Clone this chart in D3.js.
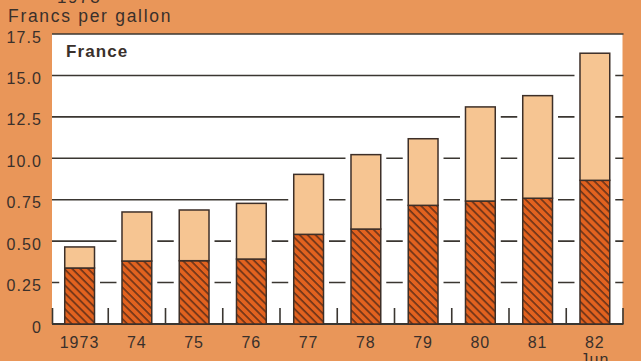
<!DOCTYPE html>
<html>
<head>
<meta charset="utf-8">
<script src="https://cdn.jsdelivr.net/npm/d3@7"></script>
<style>
  html, body { margin: 0; padding: 0; background: #e99659; }
  svg { display: block; }
  text { font-family: "Liberation Sans", Arial, sans-serif; fill: #3a302b; }
</style>
</head>
<body>
<svg id="chart" width="641" height="361"></svg>
<script>
// Petrol price per gallon, France (francs)
const years = ["1973", "74", "75", "76", "77", "78", "79", "80", "81", "82"];
const yearSubLabels = ["", "", "", "", "", "", "", "", "", "Jun"];
const lowerValues = [3.38, 3.80, 3.82, 3.92, 5.41, 5.73, 7.16, 7.42, 7.59, 8.67];
const upperValues = [1.27, 2.96, 3.06, 3.36, 3.62, 4.49, 4.02, 5.68, 6.19, 7.67];
const tickValues = [0, 2.5, 5, 7.5, 10, 12.5, 15, 17.5];
const tickLabels = ["0", "0.25", "0.50", "0.75", "10.0", "12.5", "15.0", "17.5"];

const rows = years.map((y, i) => ({ year: y, lower: lowerValues[i], upper: upperValues[i] }));
const stacked = d3.stack().keys(["lower", "upper"])(rows);

const svg = d3.select("#chart");
const plotLeft = 51, plotRight = 623.5, plotTop = 34, plotBottom = 324;

const x = d3.scaleBand().domain(years).range([plotLeft, plotRight])
  .paddingInner(0.48).paddingOuter(0.24);
const y = d3.scaleLinear().domain([0, 17.5]).range([plotBottom, plotTop]);

const ink = "#3a3631";

// hatch pattern for the lower segment
const defs = svg.append("defs");
const pat = defs.append("pattern")
  .attr("id", "hatch")
  .attr("patternUnits", "userSpaceOnUse")
  .attr("width", 5.6).attr("height", 10)
  .attr("patternTransform", "rotate(-45)");
pat.append("rect").attr("width", 5.6).attr("height", 10).attr("fill", "#e2621f");
pat.append("line").attr("x1", 1).attr("x2", 1).attr("y1", 0).attr("y2", 10)
  .attr("stroke", "#4a2616").attr("stroke-width", 1.3);

// white plotting panel
svg.append("rect")
  .attr("x", plotLeft + 1).attr("y", plotTop)
  .attr("width", plotRight - plotLeft - 2).attr("height", plotBottom - plotTop)
  .attr("fill", "#ffffff");

// horizontal gridlines
svg.append("g")
  .selectAll("line")
  .data(tickValues.filter(v => v > 0))
  .join("line")
  .attr("x1", plotLeft + 1).attr("x2", plotRight)
  .attr("y1", d => y(d)).attr("y2", d => y(d))
  .attr("stroke", ink).attr("stroke-width", 1.6);

// clear the gridlines beside each bar
const gap = 5.5;
svg.append("g")
  .selectAll("rect")
  .data(rows)
  .join("rect")
  .attr("x", d => x(d.year) - gap)
  .attr("width", x.bandwidth() + 2 * gap)
  .attr("y", d => y(d.lower + d.upper) + 1)
  .attr("height", d => y(0) - y(d.lower + d.upper) - 2)
  .attr("fill", "#ffffff");

// y-axis labels
const yAxis = d3.axisLeft(y)
  .tickValues(tickValues)
  .tickSize(0)
  .tickFormat((d, i) => tickLabels[i]);
const gy = svg.append("g").attr("transform", `translate(${plotLeft - 6},3)`).call(yAxis);
gy.select(".domain").remove();
gy.selectAll("text")
  .style("font-size", "16px")
  .style("letter-spacing", "1.1px")
  .attr("fill", "#3a302b");

// baseline with separators between bars
svg.append("line")
  .attr("x1", plotLeft + 1).attr("x2", plotRight)
  .attr("y1", y(0)).attr("y2", y(0))
  .attr("stroke", ink).attr("stroke-width", 1.8);
const sepPos = years.map(d => x(d) - x.step() * 0.24).concat([plotRight - 0.5]);
sepPos[0] = plotLeft + 1.5;
svg.append("g")
  .selectAll("line")
  .data(sepPos)
  .join("line")
  .attr("x1", d => d).attr("x2", d => d)
  .attr("y1", y(0)).attr("y2", y(0) - 16)
  .attr("stroke", ink).attr("stroke-width", 1.6);

// stacked bars
const fills = { lower: "url(#hatch)", upper: "#f6c592" };
svg.append("g")
  .selectAll("g")
  .data(stacked)
  .join("g")
  .attr("fill", d => fills[d.key])
  .selectAll("rect")
  .data(d => d)
  .join("rect")
  .attr("x", d => x(d.data.year))
  .attr("width", x.bandwidth())
  .attr("y", d => y(d[1]))
  .attr("height", d => y(d[0]) - y(d[1]))
  .attr("stroke", "#3d2f28")
  .attr("stroke-width", 1.5);

// x-axis labels
const xAxis = d3.axisBottom(x).tickSize(0).tickPadding(0);
const gx = svg.append("g").attr("transform", `translate(0,${plotBottom})`).call(xAxis);
gx.select(".domain").remove();
gx.selectAll("text").remove();
gx.selectAll(".tick").each(function (d, i) {
  const t = d3.select(this).append("text")
    .attr("text-anchor", "middle")
    .attr("y", 24)
    .style("font-size", "16px")
    .style("letter-spacing", "1.1px")
    .attr("fill", "#3a302b");
  t.append("tspan").attr("x", 0).text(d);
  if (yearSubLabels[i]) t.append("tspan").attr("x", 0).attr("dy", 17).text(yearSubLabels[i]);
});

// titles
svg.append("text")
  .attr("x", 57).attr("y", 2.5)
  .style("font-size", "17px").style("letter-spacing", "1.6px")
  .text("1973");
svg.append("text")
  .attr("x", 8).attr("y", 22)
  .style("font-size", "17.5px").style("letter-spacing", "1.7px")
  .text("Francs per gallon");
svg.append("text")
  .attr("x", 66).attr("y", 57)
  .style("font-size", "17px").style("font-weight", "bold").style("letter-spacing", "1.1px")
  .text("France");
</script>
</body>
</html>
